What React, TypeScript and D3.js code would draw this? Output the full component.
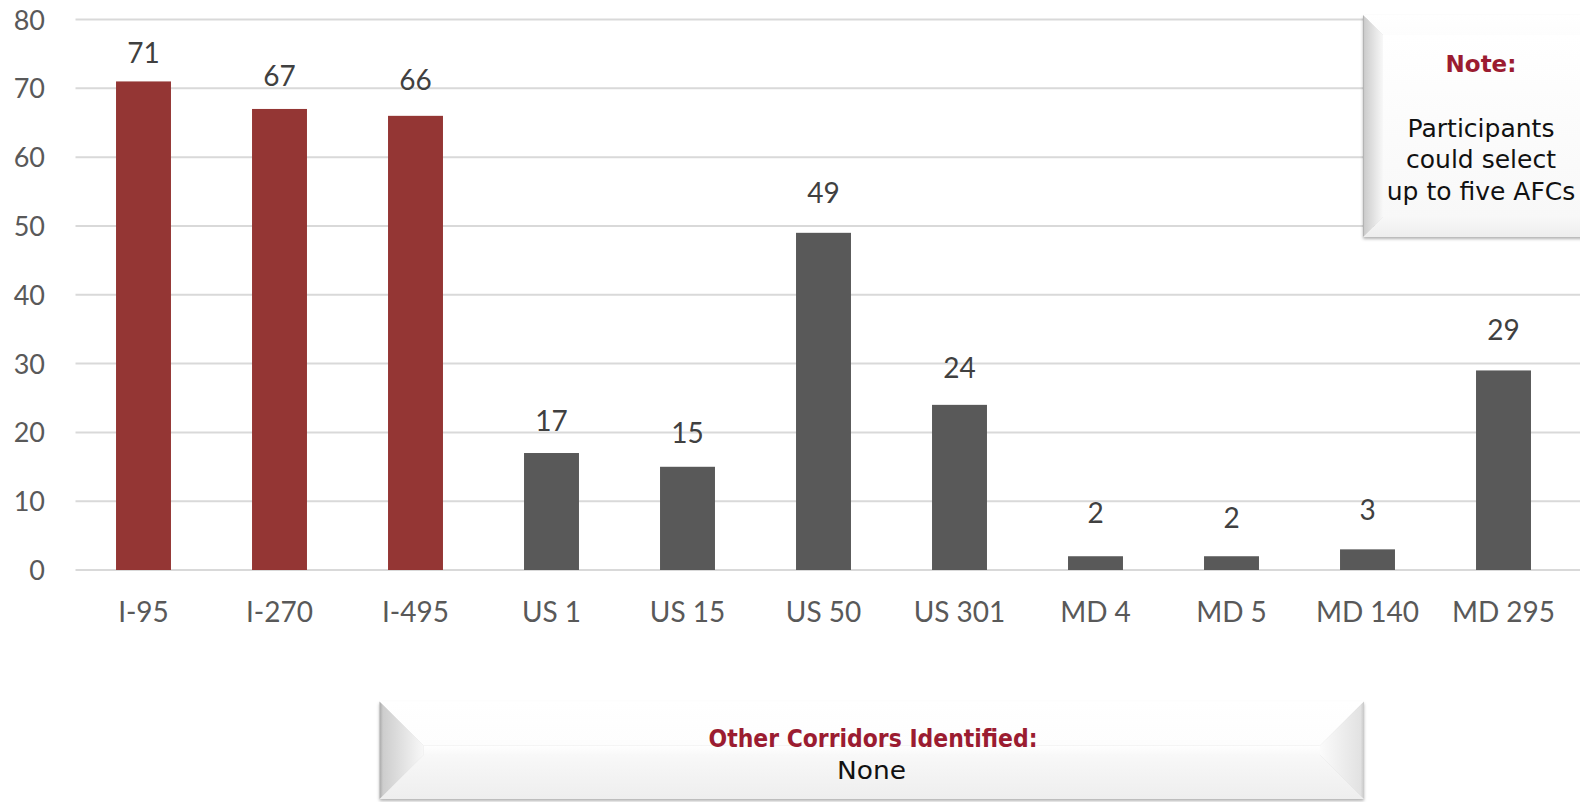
import React from "react";
import * as d3 from "d3";

// ---- data ----
const categories = ["I-95", "I-270", "I-495", "US 1", "US 15", "US 50", "US 301", "MD 4", "MD 5", "MD 140", "MD 295"];
const values = [71, 67, 66, 17, 15, 49, 24, 2, 2, 3, 29];
const highlighted = ["I-95", "I-270", "I-495"];
const yTicks = [0, 10, 20, 30, 40, 50, 60, 70, 80];
const noteTitle = "Note:";
const noteLines = ["Participants", "could select", "up to five AFCs"];
const otherTitle = "Other Corridors Identified:";
const otherBody = "None";

// ---- layout (not data) ----
const W = 1580;
const H = 802;
const plot = { left: 75.5, right: 1571.5, top: 19.5, bottom: 570 };
const labelLift = [18, 23, 26, 22, 24, 30, 27, 33, 28, 29, 30];

const RED = "#943634";
const GRAY = "#595959";
const CRIMSON = "#9B1C31";

function BevelBox({ x0, y0, x1, y1, d, id }: { x0: number; y0: number; x1: number; y1: number; d: number; id: string }) {
  const p = (pts: number[][]) => pts.map((q) => q.join(",")).join(" ");
  return (
    <g filter={`url(#shadow-${id})`}>
      <defs>
        <linearGradient id={`lg-${id}`} x1="0" x2="1" y1="0" y2="0">
          <stop offset="0" stopColor="#a8a8a8" />
          <stop offset="0.08" stopColor="#cdcdcd" />
          <stop offset="1" stopColor="#f8f8f8" />
        </linearGradient>
        <linearGradient id={`rg-${id}`} x1="1" x2="0" y1="0" y2="0">
          <stop offset="0" stopColor="#c8c8c8" />
          <stop offset="0.08" stopColor="#e2e2e2" />
          <stop offset="1" stopColor="#fbfbfb" />
        </linearGradient>
        <linearGradient id={`bg-${id}`} x1="0" x2="0" y1="0" y2="1">
          <stop offset="0" stopColor="#f8f8f8" />
          <stop offset="1" stopColor="#eeeeee" />
        </linearGradient>
        <linearGradient id={`tg-${id}`} x1="0" x2="0" y1="0" y2="1">
          <stop offset="0" stopColor="#ffffff" />
          <stop offset="1" stopColor="#fdfdfd" />
        </linearGradient>
        <linearGradient id={`fg-${id}`} x1="0" x2="0" y1="0" y2="1">
          <stop offset="0" stopColor="#ffffff" />
          <stop offset="1" stopColor="#f8f8f8" />
        </linearGradient>
        <filter id={`shadow-${id}`} x="-10%" y="-20%" width="120%" height="140%">
          <feDropShadow dx="0" dy="2" stdDeviation="1.5" floodColor="#000" floodOpacity="0.3" />
        </filter>
      </defs>
      <rect x={x0 + d} y={y0 + d} width={Math.max(0, x1 - x0 - 2 * d)} height={Math.max(0, y1 - y0 - 2 * d)} fill={`url(#fg-${id})`} />
      <polygon points={p([[x0, y0], [x1, y0], [x1 - d, y0 + d], [x0 + d, y0 + d]])} fill={`url(#tg-${id})`} />
      <polygon points={p([[x0, y1], [x0 + d, y1 - d], [x1 - d, y1 - d], [x1, y1]])} fill={`url(#bg-${id})`} />
      <polygon points={p([[x0, y0], [x0 + d, y0 + d], [x0 + d, y1 - d], [x0, y1]])} fill={`url(#lg-${id})`} />
      <polygon points={p([[x1, y0], [x1 - d, y0 + d], [x1 - d, y1 - d], [x1, y1]])} fill={`url(#rg-${id})`} />
    </g>
  );
}

export default function App() {
  const x = d3.scaleBand<string>().domain(categories).range([plot.left, plot.right]).paddingInner(0.596).paddingOuter(0.298);
  const y = d3.scaleLinear().domain([0, 80]).range([plot.bottom, plot.top]);
  const font = "Lato, 'Open Sans', sans-serif";

  return (
    <svg width={W} height={H} style={{ position: "absolute", left: 0, top: 0, display: "block", background: "#fff" }}>
      {yTicks.map((t) => (
        <line key={`g${t}`} x1={plot.left} x2={W} y1={y(t)} y2={y(t)} stroke="#d9d9d9" strokeWidth={2} />
      ))}
      {yTicks.map((t) => (
        <text key={`yt${t}`} x={45} y={y(t) + 10} textAnchor="end" fontFamily={font} fontSize={27} fill={GRAY}>
          {t}
        </text>
      ))}
      {categories.map((c, i) => (
        <rect
          key={`b${c}`}
          x={x(c)!}
          y={y(values[i])}
          width={x.bandwidth()}
          height={y(0) - y(values[i])}
          fill={highlighted.includes(c) ? RED : GRAY}
        />
      ))}
      {categories.map((c, i) => (
        <text
          key={`dl${c}`}
          x={x(c)! + x.bandwidth() / 2}
          y={y(values[i]) - labelLift[i]}
          textAnchor="middle"
          fontFamily={font}
          fontSize={28}
          fill="#404040"
        >
          {values[i]}
        </text>
      ))}
      {categories.map((c) => (
        <text key={`xl${c}`} x={x(c)! + x.bandwidth() / 2} y={621.5} textAnchor="middle" fontFamily={font} fontSize={28} fill={GRAY}>
          {c}
        </text>
      ))}

      <BevelBox id="note" x0={1363} y0={15} x1={1610} y1={237} d={20} />
      <text x={1481} y={72} textAnchor="middle" fontFamily="'DejaVu Sans', sans-serif" fontWeight="bold" fontSize={23} fill={CRIMSON}>
        {noteTitle}
      </text>
      {noteLines.map((l, i) => (
        <text key={l} x={1481} y={137 + i * 31.3} textAnchor="middle" fontFamily="'DejaVu Sans', sans-serif" fontSize={25} fill="#111">
          {l}
        </text>
      ))}

      <BevelBox id="other" x0={379.5} y0={701.5} x1={1364} y1={799} d={44} />
      <text
        x={873}
        y={747}
        textAnchor="middle"
        fontFamily="'DejaVu Sans', sans-serif"
        fontWeight="bold"
        fontSize={24}
        fill={CRIMSON}
        textLength={329}
        lengthAdjust="spacingAndGlyphs"
      >
        {otherTitle}
      </text>
      <text
        x={871.5}
        y={779}
        textAnchor="middle"
        fontFamily="'DejaVu Sans', sans-serif"
        fontSize={24}
        fill="#111"
        textLength={69}
        lengthAdjust="spacingAndGlyphs"
      >
        {otherBody}
      </text>
    </svg>
  );
}
